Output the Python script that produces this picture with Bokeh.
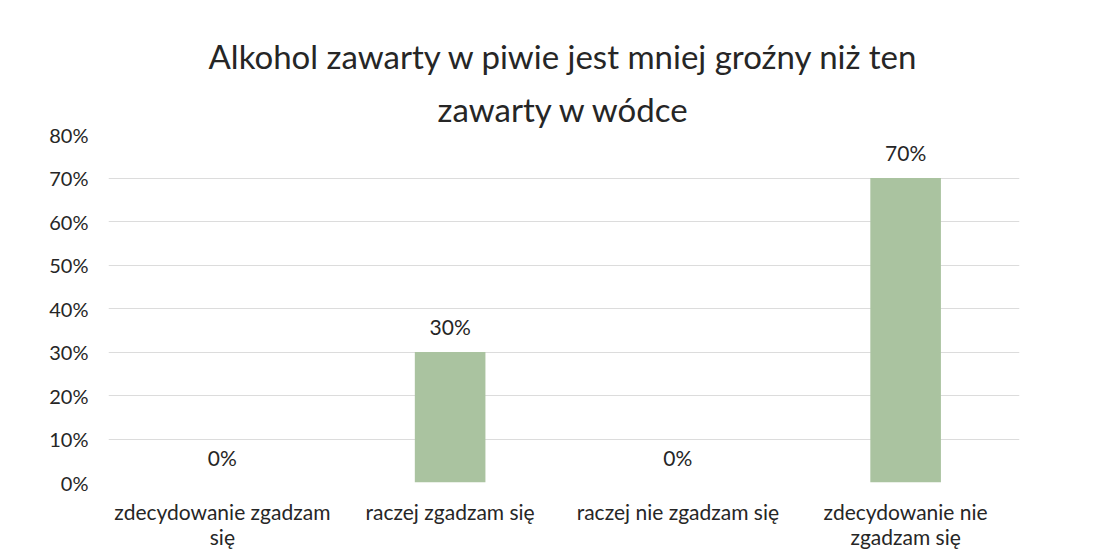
from bokeh.plotting import figure
from bokeh.models import (ColumnDataSource, LabelSet, NumeralTickFormatter,
                          FixedTicker, Title)
from bokeh.core.properties import value
from bokeh.embed import file_html
from bokeh.resources import INLINE

# ---- data ----
categories = ["zdecydowanie zgadzam\nsię", "raczej zgadzam się",
              "raczej nie zgadzam się", "zdecydowanie nie\nzgadzam się"]
values = [0.0, 0.30, 0.0, 0.70]
value_labels = ["0%", "30%", "0%", "70%"]
y_ticks = [0.0, 0.1, 0.2, 0.3, 0.4, 0.5, 0.6, 0.7, 0.8]
title_line1 = "Alkohol zawarty w piwie jest mniej groźny niż ten"
title_line2 = "zawarty w wódce"

FONT = "Lato"
TEXT = "#262626"
BAR = "#aac3a0"
GRID = "#dcdcdc"

source = ColumnDataSource(dict(cat=categories, val=values, lab=value_labels))

p = figure(x_range=categories, y_range=(0, 0.8), width=1099, height=551,
           output_backend="svg", toolbar_location=None, title=None,
           min_border_left=108, min_border_right=80,
           min_border_top=134, min_border_bottom=69)

p.vbar(x="cat", top="val", width=0.31, source=source,
       fill_color=BAR, line_color=None)

# data labels above bars
labels = LabelSet(x="cat", y="val", text="lab", source=source,
                  text_align="center", text_baseline="bottom", y_offset=13,
                  text_font=value(FONT), text_font_size="21px", text_color=TEXT)
p.add_layout(labels)

p.add_layout(Title(text=title_line2, align="center", text_font=FONT,
                   text_font_size="33px", text_font_style="normal",
                   text_color=TEXT, standoff=11), "above")
p.add_layout(Title(text=title_line1, align="center", text_font=FONT,
                   text_font_size="33px", text_font_style="normal",
                   text_color=TEXT, standoff=11), "above")

p.outline_line_color = None
p.background_fill_color = "white"
p.border_fill_color = "white"
p.xgrid.grid_line_color = None
p.ygrid.grid_line_color = GRID
p.ygrid.grid_line_width = 1

p.yaxis.ticker = FixedTicker(ticks=y_ticks)
p.yaxis.formatter = NumeralTickFormatter(format="0%")
p.yaxis.axis_line_color = None
p.yaxis.major_tick_line_color = None
p.yaxis.minor_tick_line_color = None
p.yaxis.major_tick_out = 0
p.yaxis.major_label_standoff = 20
p.yaxis.major_label_text_font = FONT
p.yaxis.major_label_text_font_size = "20px"
p.yaxis.major_label_text_color = TEXT

p.xaxis.axis_line_color = None
p.xaxis.major_tick_line_color = None
p.xaxis.minor_tick_line_color = None
p.xaxis.major_tick_out = 0
p.xaxis.major_tick_in = 0
p.xaxis.major_label_standoff = 16
p.xaxis.major_label_text_font = FONT
p.xaxis.major_label_text_font_size = "21px"
p.xaxis.major_label_text_line_height = 1.0
p.xaxis.major_label_text_color = TEXT

p.x_range.range_padding = 0

open("out.html", "w").write(file_html(p, INLINE))
